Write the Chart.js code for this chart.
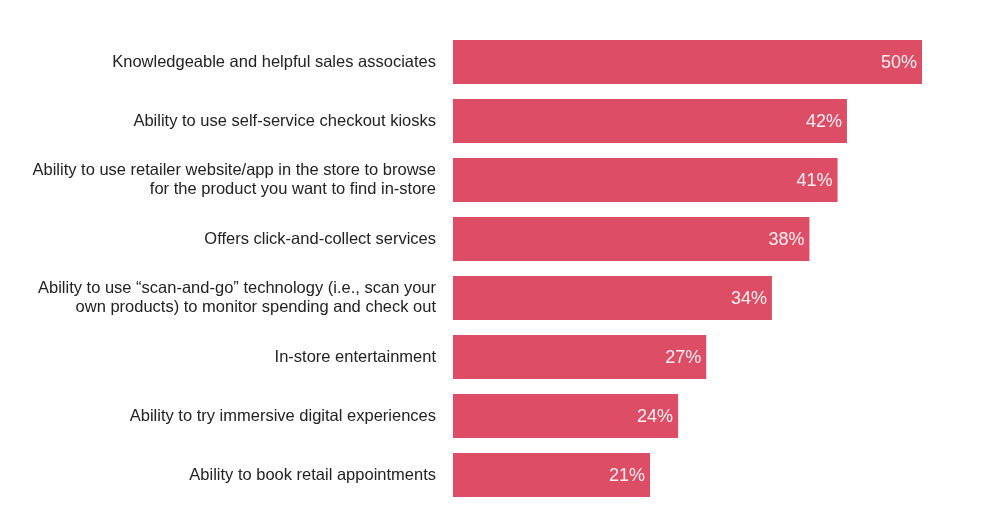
<!DOCTYPE html>
<html>
<head>
  <meta charset="utf-8">
  <title>In-store features</title>
  <script src="https://cdn.jsdelivr.net/npm/chart.js"></script>
  <style>
    html, body {
      margin: 0;
      padding: 0;
      background: #ffffff;
      font-family: 'Liberation Sans', Arial, sans-serif;
    }
    .wrap {
      width: 996px;
      height: 512px;
    }
  </style>
</head>
<body>

<div class="wrap">
  <canvas id="featureChart" width="996" height="512"></canvas>
</div>

<script>
  const categories = [
    'Knowledgeable and helpful sales associates',
    'Ability to use self-service checkout kiosks',
    ['Ability to use retailer website/app in the store to browse', 'for the product you want to find in-store'],
    'Offers click-and-collect services',
    ['Ability to use \u201cscan-and-go\u201d technology (i.e., scan your', 'own products) to monitor spending and check out'],
    'In-store entertainment',
    'Ability to try immersive digital experiences',
    'Ability to book retail appointments'
  ];
  const shares = [50, 42, 41, 38, 34, 27, 24, 21];

  // writes the % value inside the end of each bar
  const valueLabels = {
    id: 'valueLabels',
    afterDatasetsDraw(chart) {
      const ctx = chart.ctx;
      const meta = chart.getDatasetMeta(0);
      ctx.save();
      ctx.font = '18px "Liberation Sans", Arial, sans-serif';
      ctx.fillStyle = '#fdf0f2';
      ctx.textAlign = 'right';
      ctx.textBaseline = 'middle';
      meta.data.forEach((bar, i) => {
        ctx.fillText(shares[i] + '%', bar.x - 5, bar.y + 1);
      });
      ctx.restore();
    }
  };

  const ctx = document.getElementById('featureChart').getContext('2d');
  new Chart(ctx, {
    type: 'bar',
    data: {
      labels: categories,
      datasets: [{
        data: shares,
        backgroundColor: '#dd4d65',
        categoryPercentage: 1,
        barPercentage: 0.746
      }]
    },
    options: {
      indexAxis: 'y',
      responsive: false,
      animation: false,
      layout: {
        padding: { top: 32.5, bottom: 7.5, left: 0, right: 74 }
      },
      plugins: {
        legend: { display: false },
        tooltip: { enabled: false }
      },
      scales: {
        x: {
          display: false,
          min: 0,
          max: 50
        },
        y: {
          grid: { display: false, drawTicks: false },
          border: { display: false },
          afterFit(scale) {
            scale.width = 453;
            scale.paddingTop = 0;
            scale.paddingBottom = 0;
          },
          ticks: {
            padding: 17,
            color: '#222222',
            font: { family: "'Liberation Sans', Arial, sans-serif", size: 16.5, lineHeight: 1.17 }
          }
        }
      }
    },
    plugins: [valueLabels]
  });
</script>

</body>
</html>
